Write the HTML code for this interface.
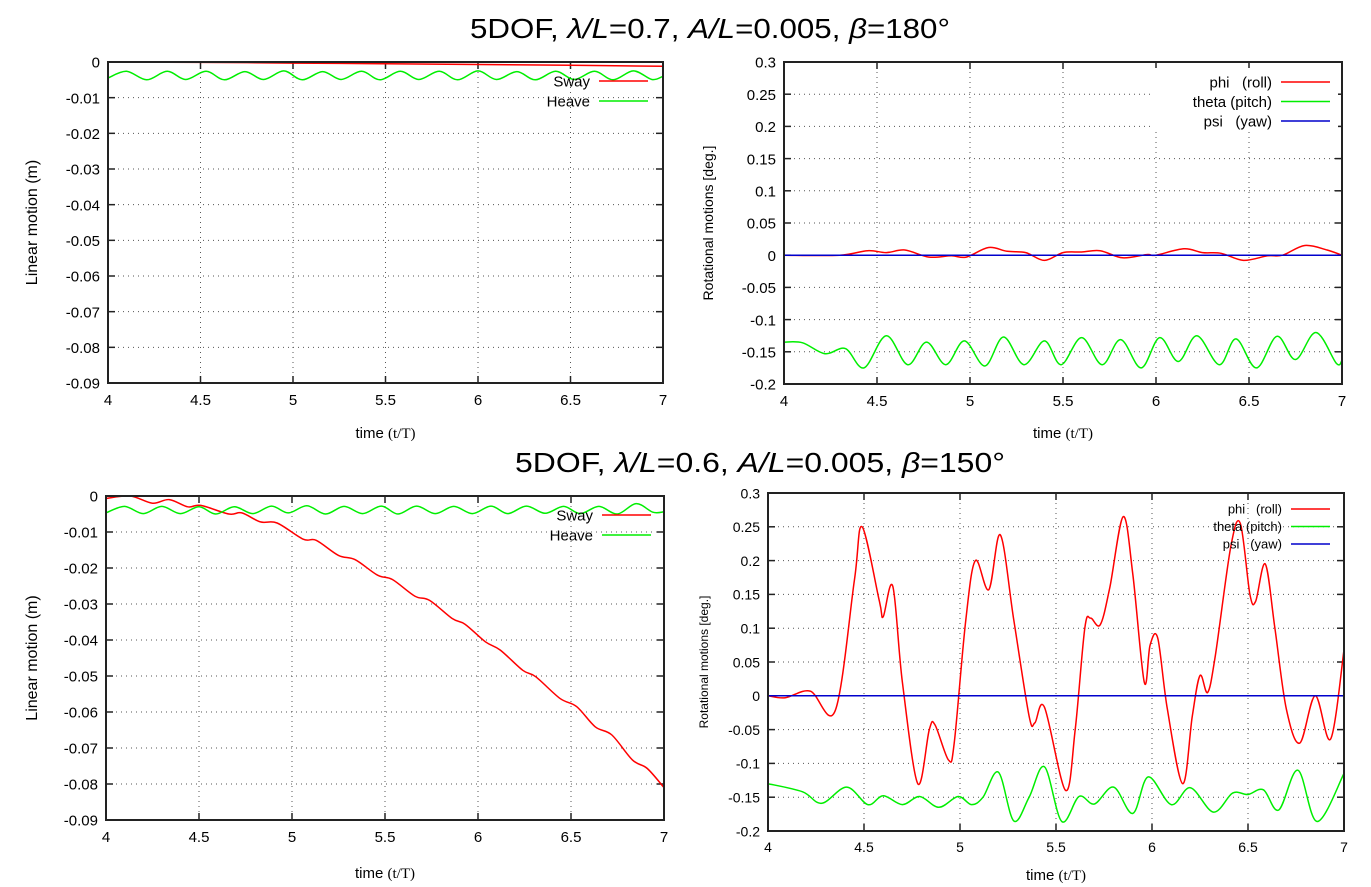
<!DOCTYPE html>
<html><head><meta charset="utf-8"><style>
html,body{margin:0;padding:0;background:#fff;}
svg{display:block;font-family:"Liberation Sans",sans-serif;}
.pre{white-space:pre;}
</style></head><body>
<svg id="fig" width="1371" height="887" viewBox="0 0 1371 887" xmlns="http://www.w3.org/2000/svg">
<text x="470" y="38" font-size="28" textLength="480" lengthAdjust="spacingAndGlyphs" fill="#000">5DOF, <tspan font-style="italic">λ/L</tspan>=0.7, <tspan font-style="italic">A/L</tspan>=0.005, <tspan font-style="italic">β</tspan>=180°</text>
<text x="515" y="472" font-size="28" textLength="490" lengthAdjust="spacingAndGlyphs" fill="#000">5DOF, <tspan font-style="italic">λ/L</tspan>=0.6, <tspan font-style="italic">A/L</tspan>=0.005, <tspan font-style="italic">β</tspan>=150°</text>
</svg>
<script>
// ---- Data ----
const xTicks = [4, 4.5, 5, 5.5, 6, 6.5, 7];
const linTicks = [0, -0.01, -0.02, -0.03, -0.04, -0.05, -0.06, -0.07, -0.08, -0.09];
const linTickLabels = ["0","-0.01","-0.02","-0.03","-0.04","-0.05","-0.06","-0.07","-0.08","-0.09"];
const rotTicks = [0.3, 0.25, 0.2, 0.15, 0.1, 0.05, 0, -0.05, -0.1, -0.15, -0.2];
const rotTickLabels = ["0.3","0.25","0.2","0.15","0.1","0.05","0","-0.05","-0.1","-0.15","-0.2"];

// Panel 1 (top-left)
const p1SwayT = [4, 4.5, 5, 5.5, 6, 6.5, 7];
const p1SwayV = [0, -0.0001, -0.0003, -0.0005, -0.0007, -0.0009, -0.0012];
const p1HeaveT = [4, 4.1, 4.21, 4.32, 4.42, 4.53, 4.63, 4.74, 4.84, 4.95, 5.05, 5.16, 5.26, 5.37, 5.47, 5.58, 5.68, 5.79, 5.89, 6.0, 6.1, 6.21, 6.31, 6.42, 6.52, 6.63, 6.73, 6.84, 6.94, 7];
const p1HeaveV = [-0.0045, -0.0026, -0.005, -0.0026, -0.0049, -0.0026, -0.005, -0.0027, -0.0049, -0.0025, -0.005, -0.0027, -0.0049, -0.0026, -0.005, -0.0026, -0.0049, -0.0026, -0.005, -0.0025, -0.0049, -0.0027, -0.005, -0.0026, -0.0049, -0.0026, -0.005, -0.0025, -0.0049, -0.004];

// Panel 2 (top-right)
const p2PhiT = [4, 4.3, 4.45, 4.55, 4.65, 4.78, 4.9, 4.98, 5.1, 5.2, 5.3, 5.4, 5.5, 5.6, 5.7, 5.82, 5.95, 6.0, 6.15, 6.25, 6.35, 6.47, 6.6, 6.68, 6.8, 6.92, 7];
const p2PhiV = [0, 0, 0.007, 0.004, 0.008, -0.003, -0.001, -0.003, 0.012, 0.006, 0.004, -0.008, 0.004, 0.005, 0.007, -0.004, 0.001, 0, 0.01, 0.004, 0.003, -0.008, -0.001, 0, 0.015, 0.008, 0];
const p2ThetaT = [4, 4.1, 4.22, 4.33, 4.43, 4.55, 4.665, 4.766, 4.87, 4.97, 5.08, 5.18, 5.29, 5.4, 5.49, 5.6, 5.71, 5.81, 5.92, 6.02, 6.12, 6.22, 6.34, 6.43, 6.54, 6.65, 6.75, 6.86, 6.97, 7];
const p2ThetaV = [-0.135, -0.136, -0.153, -0.145, -0.175, -0.125, -0.17, -0.135, -0.17, -0.133, -0.172, -0.127, -0.17, -0.133, -0.17, -0.128, -0.17, -0.131, -0.175, -0.128, -0.165, -0.125, -0.17, -0.13, -0.175, -0.126, -0.162, -0.12, -0.168, -0.163];
const p2PsiT = [4, 7];
const p2PsiV = [0, 0];

// Panel 3 (bottom-left)
const p3SwayT = [4, 4.13, 4.25, 4.34, 4.44, 4.51, 4.66, 4.73, 4.83, 4.92, 5.06, 5.13, 5.25, 5.34, 5.46, 5.54, 5.66, 5.74, 5.86, 5.93, 6.04, 6.12, 6.24, 6.31, 6.44, 6.53, 6.63, 6.72, 6.83, 6.91, 7];
const p3SwayV = [-0.0007, 0, -0.002, -0.001, -0.003, -0.0026, -0.005, -0.0047, -0.0072, -0.0075, -0.012, -0.0123, -0.0165, -0.0177, -0.022, -0.0232, -0.0278, -0.029, -0.034, -0.0356, -0.0405, -0.0428, -0.0484, -0.0502, -0.0562, -0.0585, -0.0641, -0.0664, -0.0733, -0.0757, -0.081];
const p3HeaveT = [4, 4.1, 4.2, 4.3, 4.4, 4.5, 4.59, 4.69, 4.79, 4.89, 4.98, 5.08, 5.18, 5.28, 5.38, 5.48, 5.57, 5.67, 5.77, 5.87, 5.97, 6.07, 6.16, 6.26, 6.36, 6.46, 6.55, 6.65, 6.75, 6.85, 6.94, 7];
const p3HeaveV = [-0.0047, -0.0029, -0.0049, -0.0029, -0.0049, -0.003, -0.005, -0.003, -0.0049, -0.0028, -0.0047, -0.0027, -0.005, -0.0029, -0.0049, -0.0028, -0.005, -0.0028, -0.0049, -0.0029, -0.0049, -0.0028, -0.0049, -0.0028, -0.0048, -0.0029, -0.0049, -0.0029, -0.005, -0.0021, -0.0045, -0.0044];

// Panel 4 (bottom-right)
const p4PhiT = [4, 4.09, 4.22, 4.35, 4.45, 4.49, 4.58, 4.6, 4.65, 4.7, 4.78, 4.84, 4.87, 4.94, 4.97, 5.03, 5.08, 5.15, 5.21, 5.28, 5.36, 5.39, 5.44, 5.55, 5.6, 5.65, 5.68, 5.73, 5.78, 5.85, 5.9, 5.96, 5.99, 6.03, 6.08, 6.16, 6.21, 6.25, 6.29, 6.33, 6.41, 6.46, 6.51, 6.54, 6.59, 6.64, 6.7, 6.77, 6.85, 6.93, 7];
const p4PhiV = [0, -0.003, 0.007, -0.022, 0.171, 0.25, 0.14, 0.117, 0.162, 0.02, -0.13, -0.05, -0.043, -0.095, -0.07, 0.112, 0.2, 0.157, 0.238, 0.112, -0.03, -0.04, -0.017, -0.14, -0.05, 0.1, 0.115, 0.105, 0.16, 0.265, 0.18, 0.02, 0.075, 0.085, -0.02, -0.13, -0.03, 0.03, 0.005, 0.06, 0.22, 0.255, 0.15, 0.14, 0.195, 0.1, -0.02, -0.07, 0.0, -0.064, 0.068];
const p4ThetaT = [4, 4.18, 4.28, 4.41, 4.52, 4.6, 4.7, 4.79, 4.89, 4.99, 5.06, 5.12, 5.2, 5.28, 5.36, 5.44, 5.53, 5.62, 5.7, 5.8, 5.9, 5.98, 6.1, 6.2, 6.32, 6.42, 6.5, 6.58, 6.66, 6.76, 6.86, 7];
const p4ThetaV = [-0.13, -0.142, -0.159, -0.135, -0.161, -0.148, -0.161, -0.149, -0.165, -0.149, -0.161, -0.15, -0.113, -0.185, -0.15, -0.105, -0.186, -0.149, -0.16, -0.135, -0.174, -0.12, -0.161, -0.136, -0.172, -0.144, -0.146, -0.139, -0.169, -0.11, -0.186, -0.115];
const p4PsiT = [4, 7];
const p4PsiV = [0, 0];

// ---- Drawing ----
const NS = "http://www.w3.org/2000/svg";
const fig = document.getElementById("fig");
function mk(tag, attrs, parent) {
  const e = document.createElementNS(NS, tag);
  for (const k in attrs) e.setAttribute(k, attrs[k]);
  (parent || fig).appendChild(e);
  return e;
}
function smoothPath(pts) {
  let d = "M" + pts[0][0].toFixed(1) + "," + pts[0][1].toFixed(1);
  for (let i = 0; i < pts.length - 1; i++) {
    const p0 = pts[Math.max(0, i - 1)], p1 = pts[i], p2 = pts[i + 1], p3 = pts[Math.min(pts.length - 1, i + 2)];
    const c1x = p1[0] + (p2[0] - p0[0]) / 6, c1y = p1[1] + (p2[1] - p0[1]) / 6;
    const c2x = p2[0] - (p3[0] - p1[0]) / 6, c2y = p2[1] - (p3[1] - p1[1]) / 6;
    d += "C" + c1x.toFixed(1) + "," + c1y.toFixed(1) + " " + c2x.toFixed(1) + "," + c2y.toFixed(1) + " " + p2[0].toFixed(1) + "," + p2[1].toFixed(1);
  }
  return d;
}
function panel(cfg) {
  const g = mk("g", {});
  
  
  const xs = v => cfg.L + (v - 4) / 3 * (cfg.R - cfg.L);
  const ys = v => cfg.T + (cfg.ymax - v) / (cfg.ymax - cfg.ymin) * (cfg.B - cfg.T);
  xTicks.forEach(t => {
    const x = xs(t);
    if (t > 4 && t < 7) {
      const l = mk("line", {x1: x, x2: x, y1: cfg.T, y2: cfg.B, stroke: "#555", "stroke-width": 1, "stroke-dasharray": "1,4"}, g);
      
      
    }
    const tk1 = mk("line", {x1: x, x2: x, y1: cfg.B, y2: cfg.B - 7, stroke: "#222", "stroke-width": 1.5}, g);
    
    
    const tk2 = mk("line", {x1: x, x2: x, y1: cfg.T, y2: cfg.T + 7, stroke: "#222", "stroke-width": 1.5}, g);
    
    
    const tx = mk("text", {x: x, y: cfg.B + cfg.fs + 7, "text-anchor": "middle", "font-size": cfg.fs, fill: "#000"}, g);
    
    
    tx.textContent = String(t);
  });
  cfg.yt.forEach((t, i) => {
    const y = ys(t);
    if (i > 0 && i < cfg.yt.length - 1) {
      const l = mk("line", {x1: cfg.L, x2: cfg.R, y1: y, y2: y, stroke: "#555", "stroke-width": 1, "stroke-dasharray": "1,4"}, g);
      
      
    }
    const tk1 = mk("line", {x1: cfg.L, x2: cfg.L + 7, y1: y, y2: y, stroke: "#222", "stroke-width": 1.5}, g);
    
    
    const tk2 = mk("line", {x1: cfg.R, x2: cfg.R - 7, y1: y, y2: y, stroke: "#222", "stroke-width": 1.5}, g);
    
    
    const tx = mk("text", {x: cfg.L - 8, y: y + cfg.fs * 0.38, "text-anchor": "end", "font-size": cfg.fs, fill: "#000"}, g);
    
    
    tx.textContent = cfg.yl[i];
  });
  if (cfg.legBg) {
    const r = mk("rect", cfg.legBg, g);
    r.setAttribute('fill', '#fff');
    
    
  }
  const clipId = "clip-" + cfg.name;
  const cp = mk("clipPath", {id: clipId}, g);
  mk("rect", {x: cfg.L, y: cfg.T - 2, width: cfg.R - cfg.L, height: cfg.B - cfg.T + 4}, cp);
  cfg.series.forEach(s => {
    const pts = s.t.map((t, i) => [xs(t), ys(s.v[i])]);
    const p = mk("path", {d: smoothPath(pts), fill: "none", stroke: s.c, "stroke-width": 1.5, "clip-path": "url(#" + clipId + ")"}, g);
    
    
  });
  cfg.series.forEach((s, i) => {
    const ly = cfg.legY + i * cfg.legDy;
    const lt = mk("text", {x: cfg.legX, y: ly + cfg.legFs * 0.36, "text-anchor": "end", "font-size": cfg.legFs, fill: "#000", "class": "pre"}, g);
    
    
    lt.textContent = s.label;
    const ll = mk("line", {x1: cfg.legX + 9, x2: cfg.legX + cfg.legW, y1: ly, y2: ly, stroke: s.c, "stroke-width": 1.5}, g);
    
    
  });
  const fr = mk("rect", {x: cfg.L, y: cfg.T, width: cfg.R - cfg.L, height: cfg.B - cfg.T, fill: "none", stroke: "#222", "stroke-width": 2}, g);
  
  
  const yt = mk("text", {x: 0, y: 0, "text-anchor": "middle", "font-size": cfg.ytFs, fill: "#000", transform: "translate(" + cfg.ytX + "," + ((cfg.T + cfg.B) / 2) + ") rotate(-90)"}, g);
  
  
  yt.textContent = cfg.ytitle;
  const xt = mk("text", {x: (cfg.L + cfg.R) / 2, y: cfg.xtY, "text-anchor": "middle", "font-size": cfg.xtFs, fill: "#000"}, g);
  
  
  xt.innerHTML = 'time <tspan font-family="Liberation Serif, serif">(t/T)</tspan>';
}

panel({name: "panel-linear-top", L: 108, R: 663, T: 62, B: 383, ymax: 0, ymin: -0.09, yt: linTicks, yl: linTickLabels, fs: 15,
  ytitle: "Linear motion (m)", ytX: 37, ytFs: 16, xtY: 438, xtFs: 15,
  legX: 590, legY: 81, legDy: 20, legFs: 15, legW: 58,
  series: [{id: "sway", label: "Sway", t: p1SwayT, v: p1SwayV, c: "#f00"}, {id: "heave", label: "Heave", t: p1HeaveT, v: p1HeaveV, c: "#0e0"}]});
panel({name: "panel-rotational-top", L: 784, R: 1342, T: 62, B: 384, ymax: 0.3, ymin: -0.2, yt: rotTicks, yl: rotTickLabels, fs: 15,
  ytitle: "Rotational motions [deg.]", ytX: 713, ytFs: 14, xtY: 438, xtFs: 15,
  legBg: {x: 1150, y: 68, width: 188, height: 62},
  legX: 1272, legY: 82, legDy: 19.5, legFs: 15, legW: 58,
  series: [{id: "phi", label: "phi   (roll)", t: p2PhiT, v: p2PhiV, c: "#f00"}, {id: "theta", label: "theta (pitch)", t: p2ThetaT, v: p2ThetaV, c: "#0e0"}, {id: "psi", label: "psi   (yaw)", t: p2PsiT, v: p2PsiV, c: "#00c"}]});
panel({name: "panel-linear-bottom", L: 106, R: 664, T: 496, B: 820, ymax: 0, ymin: -0.09, yt: linTicks, yl: linTickLabels, fs: 15,
  ytitle: "Linear motion (m)", ytX: 37, ytFs: 16, xtY: 878, xtFs: 15,
  legX: 593, legY: 515, legDy: 20, legFs: 15, legW: 58,
  series: [{id: "sway", label: "Sway", t: p3SwayT, v: p3SwayV, c: "#f00"}, {id: "heave", label: "Heave", t: p3HeaveT, v: p3HeaveV, c: "#0e0"}]});
panel({name: "panel-rotational-bottom", L: 768, R: 1344, T: 493, B: 831, ymax: 0.3, ymin: -0.2, yt: rotTicks, yl: rotTickLabels, fs: 14,
  ytitle: "Rotational motions [deg.]", ytX: 708, ytFs: 12, xtY: 880, xtFs: 15,
  legX: 1282, legY: 509, legDy: 17.5, legFs: 13, legW: 48,
  series: [{id: "phi", label: "phi   (roll)", t: p4PhiT, v: p4PhiV, c: "#f00"}, {id: "theta", label: "theta (pitch)", t: p4ThetaT, v: p4ThetaV, c: "#0e0"}, {id: "psi", label: "psi   (yaw)", t: p4PsiT, v: p4PsiV, c: "#00c"}]});
</script>
</body></html>
